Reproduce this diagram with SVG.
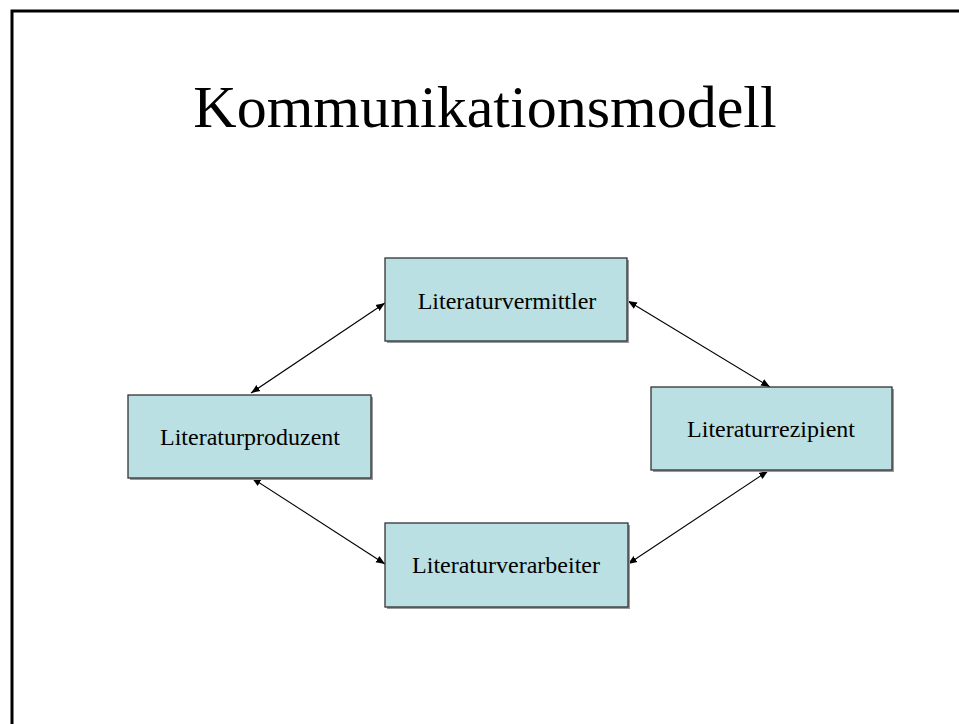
<svg xmlns="http://www.w3.org/2000/svg" width="959" height="724" viewBox="0 0 959 724">
<style>
.box{fill:#BBE0E3;stroke:#333333;stroke-width:1.3}
.shadow{fill:#9a9a9a}
.lbl{font-family:"Liberation Serif","Times New Roman",serif;font-size:24px;fill:#000;text-anchor:middle}
.con{stroke:#000;stroke-width:1.1;fill:none;marker-start:url(#ah);marker-end:url(#ah)}
</style>
<defs>
<marker id="ah" viewBox="0 0 10 10" refX="10" refY="5" markerWidth="9" markerHeight="9" markerUnits="userSpaceOnUse" orient="auto-start-reverse">
<path d="M0,1 L10,5 L0,9 z" fill="#000"/>
</marker>
</defs>
<rect x="0" y="0" width="959" height="724" fill="#fff"/>
<path d="M12,724 V11 H959" fill="none" stroke="#000" stroke-width="3"/>
<text x="485" y="127" font-family="Liberation Serif,Times New Roman,serif" font-size="60" text-anchor="middle">Kommunikationsmodell</text>
<g id="connectors">
<line class="con" x1="385" y1="303" x2="251" y2="393"/>
<line class="con" x1="628" y1="301" x2="770" y2="387"/>
<line class="con" x1="252" y1="478" x2="385" y2="564"/>
<line class="con" x1="768" y1="471" x2="628" y2="564"/>
</g>
<g id="literaturvermittler">
<rect class="shadow" x="387" y="260" width="242" height="83"/>
<rect class="box" x="385" y="258" width="242" height="83"/>
<text class="lbl" x="507" y="309">Literaturvermittler</text>
</g>
<g id="literaturproduzent">
<rect class="shadow" x="130" y="397" width="243" height="83"/>
<rect class="box" x="128" y="395" width="243" height="83"/>
<text class="lbl" x="250" y="445">Literaturproduzent</text>
</g>
<g id="literaturrezipient">
<rect class="shadow" x="653" y="389" width="241" height="83"/>
<rect class="box" x="651" y="387" width="241" height="83"/>
<text class="lbl" x="771" y="437">Literaturrezipient</text>
</g>
<g id="literaturverarbeiter">
<rect class="shadow" x="387" y="525" width="243" height="84"/>
<rect class="box" x="385" y="523" width="243" height="84"/>
<text class="lbl" x="506" y="573">Literaturverarbeiter</text>
</g>
</svg>
